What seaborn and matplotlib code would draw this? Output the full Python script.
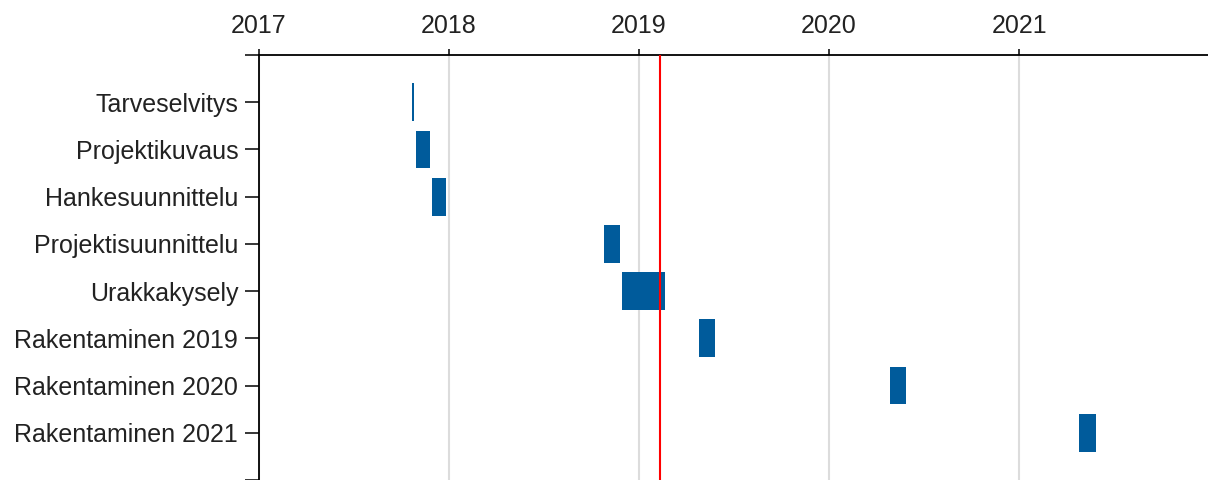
import seaborn as sns
from matplotlib import pyplot as plt
import matplotlib.dates as mdates
import pandas as pd

FIGSIZE = (12.08, 4.8)
DPI = 100
BAR_COLOR = "#005b9b"

tasks = ["Tarveselvitys", "Projektikuvaus", "Hankesuunnittelu", "Projektisuunnittelu",
         "Urakkakysely", "Rakentaminen 2019", "Rakentaminen 2020", "Rakentaminen 2021"]
start_dates = ["2017-10-22", "2017-10-29", "2017-11-29", "2018-10-27",
               "2018-11-30", "2019-04-26", "2020-04-27", "2021-04-27"]
end_dates = ["2017-10-25", "2017-11-25", "2017-12-26", "2018-11-26",
             "2019-02-20", "2019-05-27", "2020-05-28", "2021-05-28"]
today = "2019-02-10"

sns.set_theme(style="white")
plt.rcParams["font.family"] = ["Liberation Sans", "DejaVu Sans"]
#----------------------------------------------------------------------------------------------------------------
df = pd.DataFrame({"task": tasks,
                   "start": mdates.date2num(pd.to_datetime(start_dates)),
                   "end": mdates.date2num(pd.to_datetime(end_dates))})
df["duration"] = df["end"] - df["start"]

fig = plt.figure(figsize=FIGSIZE, dpi=DPI)
ax = fig.add_axes([259 / 1208, 0.0, 949 / 1208, 1 - 55 / 480])

sns.barplot(data=df, x="duration", y="task", orient="h", left=df["start"].values,
            color=BAR_COLOR, saturation=1, width=0.8, errorbar=None, ax=ax,
            linewidth=0, zorder=3)

ax.axvline(mdates.date2num(pd.Timestamp(today)), color="#ff0000", linewidth=1.5, zorder=4)

ax.set_xlim(mdates.date2num(pd.Timestamp("2017-01-01")), mdates.date2num(pd.Timestamp("2021-12-30")))
ax.xaxis.set_major_locator(mdates.YearLocator())
ax.xaxis.set_major_formatter(mdates.DateFormatter("%Y"))
ax.xaxis.tick_top()
ax.grid(axis="x", color="#dcdcdc", linewidth=1.5, zorder=0)
ax.grid(axis="y", visible=False)

ax.set_ylim(8, -1)
ax.set_yticks(range(-1, 9))
ax.set_yticklabels([""] + tasks + [""])

ax.set_xlabel("")
ax.set_ylabel("")
for side in ["right", "bottom"]:
    ax.spines[side].set_visible(False)
for side in ["top", "left"]:
    ax.spines[side].set_color("black")
    ax.spines[side].set_linewidth(1.3)

ax.tick_params(axis="x", direction="out", length=4.5, width=1.1, color="black",
               pad=8, labelsize=18, labelcolor="#222222", top=True, bottom=False)
ax.tick_params(axis="y", direction="out", length=10, width=1.1, color="black",
               pad=5, labelsize=18, labelcolor="#222222", left=True)

fig.savefig("out.png", dpi=DPI)
